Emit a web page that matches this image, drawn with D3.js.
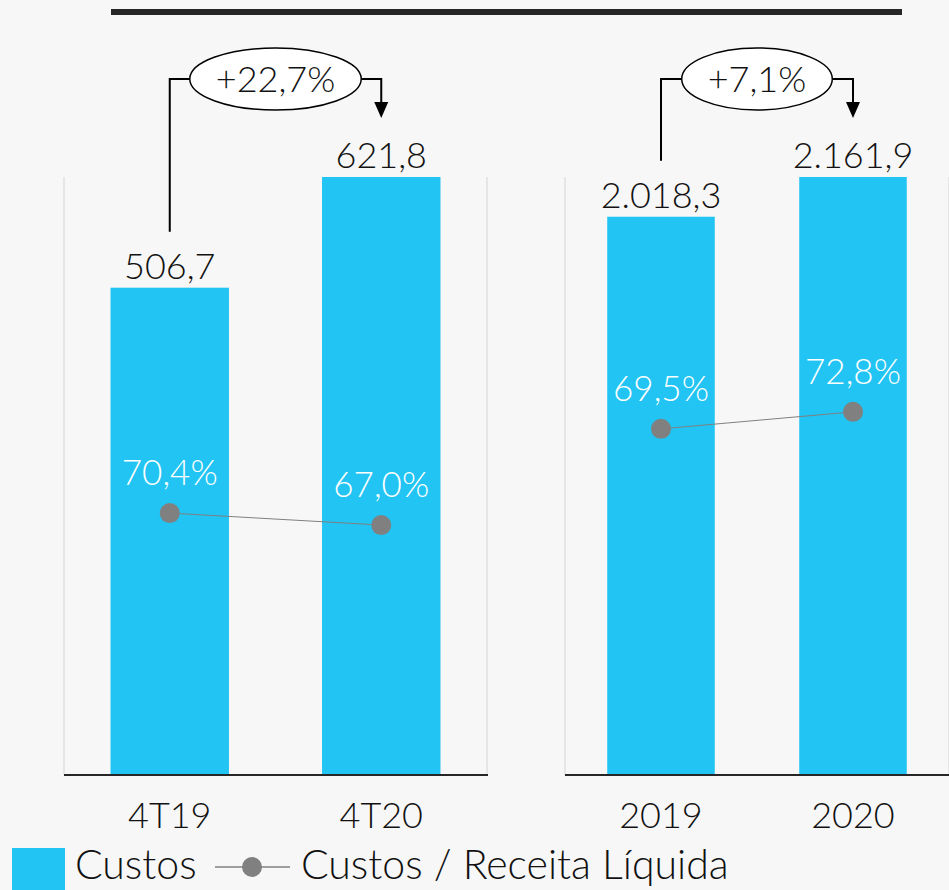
<!DOCTYPE html>
<html>
<head>
<meta charset="utf-8">
<script src="https://cdn.jsdelivr.net/npm/d3@7"></script>
<style>
  body { margin: 0; background: #f7f7f7; }
  svg { display: block; font-family: Lato, "Open Sans", sans-serif; font-weight: 300; }
</style>
</head>
<body>
<div id="chart"></div>
<script>
// Data
const quarterLabels = ["4T19", "4T20"];
const quarterCosts = [506.7, 621.8];
const quarterRatio = [70.4, 67.0];
const quarterChange = "+22,7%";

const yearLabels = ["2019", "2020"];
const yearCosts = [2018.3, 2161.9];
const yearRatio = [69.5, 72.8];
const yearChange = "+7,1%";

const legendLabels = ["Custos", "Custos / Receita Líquida"];

const barColor = "#21c4f3";
const dotColor = "#808080";
const ink = "#111111";

const fmtNum = (v) =>
  v.toLocaleString("de-DE", { minimumFractionDigits: 1, maximumFractionDigits: 1 });
const fmtPct = (v) => fmtNum(v) + "%";

const svgWidth = 949, svgHeight = 890;
const plotTop = 177, plotBottom = 775;

const svg = d3.select("#chart").append("svg")
  .attr("width", svgWidth).attr("height", svgHeight);

svg.append("rect").attr("width", svgWidth).attr("height", svgHeight).attr("fill", "#f7f7f7");

// Top rule
svg.append("rect")
  .attr("x", 111).attr("y", 9).attr("width", 791).attr("height", 6)
  .attr("fill", "#262626");

// Panels
renderPanel({
  x0: 64, x1: 487,
  labels: quarterLabels, costs: quarterCosts, ratio: quarterRatio,
  ratioDomain: [-3.8, 165.6], change: quarterChange,
});
renderPanel({
  x0: 565, x1: 949,
  labels: yearLabels, costs: yearCosts, ratio: yearRatio,
  ratioDomain: [2.3, 118.4], change: yearChange,
});

function renderPanel({ x0, x1, labels, costs, ratio, ratioDomain, change }) {
  const data = labels.map((l, i) => ({ label: l, cost: costs[i], ratio: ratio[i] }));
  const x = d3.scaleBand().domain(labels).range([x0, x1]).paddingInner(0.44).paddingOuter(0.22);
  const y = d3.scaleLinear().domain([0, d3.max(costs)]).range([plotBottom, plotTop]);
  const y2 = d3.scaleLinear().domain(ratioDomain).range([plotBottom, plotTop]);
  const cx = (d) => x(d.label) + x.bandwidth() / 2;

  const g = svg.append("g");

  // Faint panel borders
  g.selectAll(".edge").data([x0, x1]).join("line")
    .attr("x1", (d) => d).attr("x2", (d) => d)
    .attr("y1", plotTop).attr("y2", plotBottom)
    .attr("stroke", "#e6e6e6").attr("stroke-width", 2);

  // Bars
  g.selectAll(".bar").data(data).join("rect")
    .attr("x", (d) => x(d.label)).attr("width", x.bandwidth())
    .attr("y", (d) => y(d.cost)).attr("height", (d) => plotBottom - y(d.cost))
    .attr("fill", barColor);

  // Baseline axis
  const axis = g.append("g").attr("transform", `translate(0,${plotBottom})`)
    .call(d3.axisBottom(x).tickSize(0).tickPadding(0));
  axis.select(".domain").attr("stroke", "#262626").attr("stroke-width", 2)
    .attr("d", `M${x0},0H${x1 + 1}`);
  axis.selectAll("text")
    .attr("y", 53).attr("dy", null)
    .attr("font-size", 36).attr("fill", ink)
    .attr("font-family", "Lato, sans-serif").attr("font-weight", 300);

  // Value labels
  g.selectAll(".val").data(data).join("text")
    .attr("x", cx).attr("y", (d) => y(d.cost) - 9)
    .attr("text-anchor", "middle").attr("font-size", 36).attr("fill", ink)
    .text((d) => fmtNum(d.cost));

  // Ratio line
  g.append("path").datum(data)
    .attr("fill", "none").attr("stroke", dotColor).attr("stroke-width", 1)
    .attr("d", d3.line().x(cx).y((d) => y2(d.ratio)));
  g.selectAll(".dot").data(data).join("circle")
    .attr("cx", cx).attr("cy", (d) => y2(d.ratio)).attr("r", 10)
    .attr("fill", dotColor);
  g.selectAll(".pct").data(data).join("text")
    .attr("x", cx).attr("y", (d) => y2(d.ratio) - 28)
    .attr("text-anchor", "middle").attr("font-size", 35).attr("fill", "#ffffff")
    .text((d) => fmtPct(d.ratio));

  // Change annotation
  const a = data[0], b = data[1];
  const ax = cx(a), bx = cx(b);
  const lineY = 79;
  const ell = g.append("g");
  ell.append("path")
    .attr("fill", "none").attr("stroke", "#000").attr("stroke-width", 2)
    .attr("d", `M${ax},${y(a.cost) - 56}V${lineY}H${bx}V${104}`);
  ell.append("path")
    .attr("fill", "#000")
    .attr("d", `M${bx - 7},${102}L${bx + 7},${102}L${bx},${118}Z`);
  const mid = (ax + bx) / 2;
  const ellipse = ell.append("ellipse")
    .attr("cx", mid).attr("cy", lineY).attr("ry", 31)
    .attr("fill", "#ffffff").attr("stroke", "#000").attr("stroke-width", 1.5);
  const t = ell.append("text")
    .attr("x", mid).attr("y", lineY + 13)
    .attr("text-anchor", "middle").attr("font-size", 36).attr("fill", ink)
    .text(change);
  ellipse.attr("rx", t.node().getComputedTextLength() / 2 + 26);
}

// Legend
const legend = svg.append("g");
legend.append("rect").attr("x", 12).attr("y", 848).attr("width", 53).attr("height", 42)
  .attr("fill", barColor);
legend.append("text").attr("x", 75).attr("y", 879)
  .attr("font-size", 41).attr("fill", ink).text(legendLabels[0]);
legend.append("line").attr("x1", 215).attr("x2", 290).attr("y1", 867).attr("y2", 867)
  .attr("stroke", dotColor).attr("stroke-width", 1.5);
legend.append("circle").attr("cx", 252).attr("cy", 867).attr("r", 10).attr("fill", dotColor);
legend.append("text").attr("x", 301).attr("y", 879)
  .attr("font-size", 41).attr("fill", ink).text(legendLabels[1]);
</script>
</body>
</html>
